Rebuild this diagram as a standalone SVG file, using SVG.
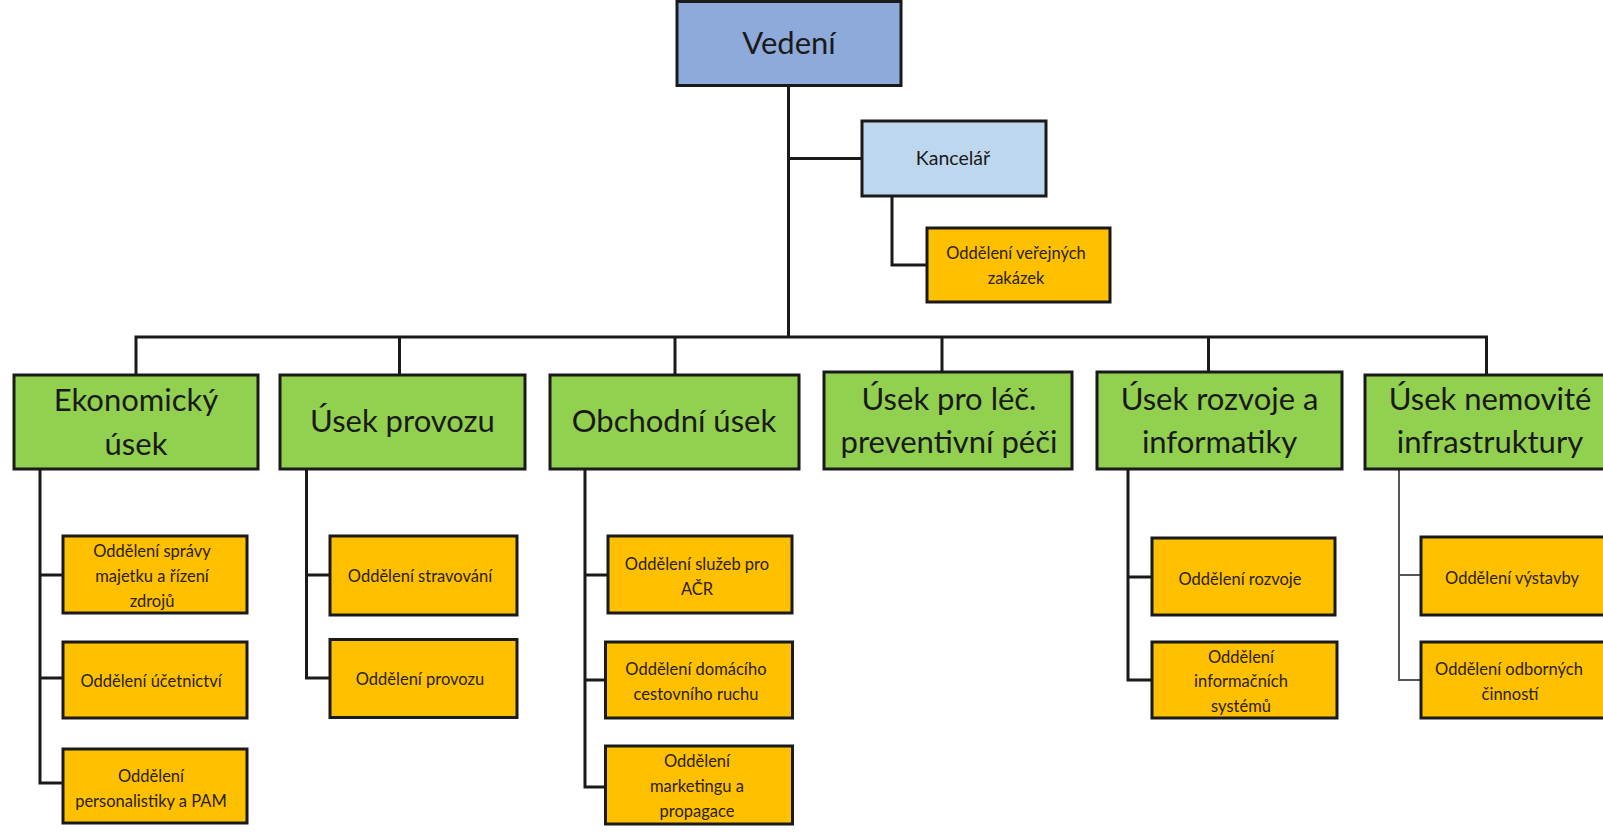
<svg xmlns="http://www.w3.org/2000/svg" width="1603" height="832" viewBox="0 0 1603 832">
<style>
  .box { stroke: #1a1a1a; stroke-width: 3; }
  .top { fill: #8eaadb; }
  .kan { fill: #bdd7ee; }
  .grn { fill: #92d050; }
  .org { fill: #ffc000; }
  .ln { fill: none; stroke: #1a1a1a; stroke-width: 3; }
  .thin { stroke: #555; stroke-width: 2; }
  text { font-family: Lato, "Open Sans", sans-serif; fill: #1a1a1a; text-anchor: middle; }
  .big { font-size: 31px; }
  .mid { font-size: 19.5px; }
  .sm { font-size: 16.5px; fill: #2a2200; }
</style>
<rect width="1603" height="832" fill="#ffffff"/>
<g id="connectors">
  <path class="ln" d="M788.5,86 V337"/>
  <path class="ln" d="M788.5,158.5 H862"/>
  <path class="ln" d="M892,196 V265 H927"/>
  <path class="ln" d="M136,375 V337 H1486.5 V375"/>
  <path class="ln" d="M399.5,337 V375"/>
  <path class="ln" d="M675,337 V375"/>
  <path class="ln" d="M942,337 V372"/>
  <path class="ln" d="M1208.5,337 V372"/>
  <path class="ln" d="M40,469 V783 H63 M40,575 H63 M40,678 H63"/>
  <path class="ln" d="M306.5,469 V678 H330 M306.5,575 H330"/>
  <path class="ln" d="M585,469 V787 H606 M585,575 H608 M585,680 H606"/>
  <path class="ln" d="M1128,469 V680 H1152 M1128,577 H1152"/>
  <path class="ln thin" d="M1399,469 V680 H1421 M1399,575 H1421"/>
</g>
<g id="vedeni">
  <rect class="box top" x="677" y="1.5" width="224" height="84"/>
  <text class="big" x="789" y="54">Vedení</text>
</g>
<g id="kancelar">
  <rect class="box kan" x="862" y="121" width="184" height="75"/>
  <text class="mid" x="953" y="165">Kancelář</text>
</g>
<g id="verejne-zakazky">
  <rect class="box org" x="927" y="228" width="183" height="74"/>
  <text class="sm" x="1016" y="259">Oddělení veřejných</text>
  <text class="sm" x="1016" y="284">zakázek</text>
</g>
<g id="ekonomicky">
  <rect class="box grn" x="14" y="375" width="244" height="94"/>
  <text class="big" x="136" y="411">Ekonomický</text>
  <text class="big" x="136" y="455">úsek</text>
</g>
<g id="provoz">
  <rect class="box grn" x="280" y="375" width="245" height="94"/>
  <text class="big" x="402.5" y="432">Úsek provozu</text>
</g>
<g id="obchodni">
  <rect class="box grn" x="550" y="375" width="249" height="94"/>
  <text class="big" x="674" y="432">Obchodní úsek</text>
</g>
<g id="lecebna">
  <rect class="box grn" x="824" y="372" width="248" height="97"/>
  <text class="big" x="949" y="410">Úsek pro léč.</text>
  <text class="big" x="949" y="453">preventivní péči</text>
</g>
<g id="rozvoj">
  <rect class="box grn" x="1097" y="372" width="245" height="97"/>
  <text class="big" x="1219.5" y="410">Úsek rozvoje a</text>
  <text class="big" x="1219.5" y="453">informatiky</text>
</g>
<g id="nemovitosti">
  <rect class="box grn" x="1365" y="375" width="250" height="94"/>
  <text class="big" x="1490" y="410">Úsek nemovité</text>
  <text class="big" x="1490" y="453">infrastruktury</text>
</g>
<g id="spravy-majetku">
  <rect class="box org" x="63" y="536" width="184" height="77"/>
  <text class="sm" x="152" y="557">Oddělení správy</text>
  <text class="sm" x="152" y="582">majetku a řízení</text>
  <text class="sm" x="152" y="607">zdrojů</text>
</g>
<g id="ucetnictvi">
  <rect class="box org" x="63" y="642" width="184" height="76"/>
  <text class="sm" x="151" y="687">Oddělení účetnictví</text>
</g>
<g id="personalistiky">
  <rect class="box org" x="63" y="749" width="184" height="74"/>
  <text class="sm" x="151" y="782">Oddělení</text>
  <text class="sm" x="151" y="807">personalistiky a PAM</text>
</g>
<g id="stravovani">
  <rect class="box org" x="330" y="536" width="187" height="79"/>
  <text class="sm" x="420" y="582">Oddělení stravování</text>
</g>
<g id="oddeleni-provozu">
  <rect class="box org" x="330" y="639.5" width="187" height="78"/>
  <text class="sm" x="420" y="685">Oddělení provozu</text>
</g>
<g id="sluzeb-acr">
  <rect class="box org" x="608" y="536" width="184" height="77"/>
  <text class="sm" x="697" y="570">Oddělení služeb pro</text>
  <text class="sm" x="697" y="594.5">AČR</text>
</g>
<g id="cestovni-ruch">
  <rect class="box org" x="605.5" y="642" width="187" height="76"/>
  <text class="sm" x="696" y="675">Oddělení domácího</text>
  <text class="sm" x="696" y="700">cestovního ruchu</text>
</g>
<g id="marketing">
  <rect class="box org" x="605.5" y="746" width="187" height="78"/>
  <text class="sm" x="697" y="767">Oddělení</text>
  <text class="sm" x="697" y="792">marketingu a</text>
  <text class="sm" x="697" y="817">propagace</text>
</g>
<g id="oddeleni-rozvoje">
  <rect class="box org" x="1152" y="538" width="183" height="77"/>
  <text class="sm" x="1240" y="585">Oddělení rozvoje</text>
</g>
<g id="informacni-systemy">
  <rect class="box org" x="1152" y="642" width="185" height="76"/>
  <text class="sm" x="1241" y="662.5">Oddělení</text>
  <text class="sm" x="1241" y="687">informačních</text>
  <text class="sm" x="1241" y="711.5">systémů</text>
</g>
<g id="vystavby">
  <rect class="box org" x="1421" y="537" width="192" height="78"/>
  <text class="sm" x="1512" y="583.5">Oddělení výstavby</text>
</g>
<g id="odborne-cinnosti">
  <rect class="box org" x="1421" y="642" width="192" height="76"/>
  <text class="sm" x="1509" y="675">Oddělení odborných</text>
  <text class="sm" x="1510" y="700">činností</text>
</g>
</svg>
